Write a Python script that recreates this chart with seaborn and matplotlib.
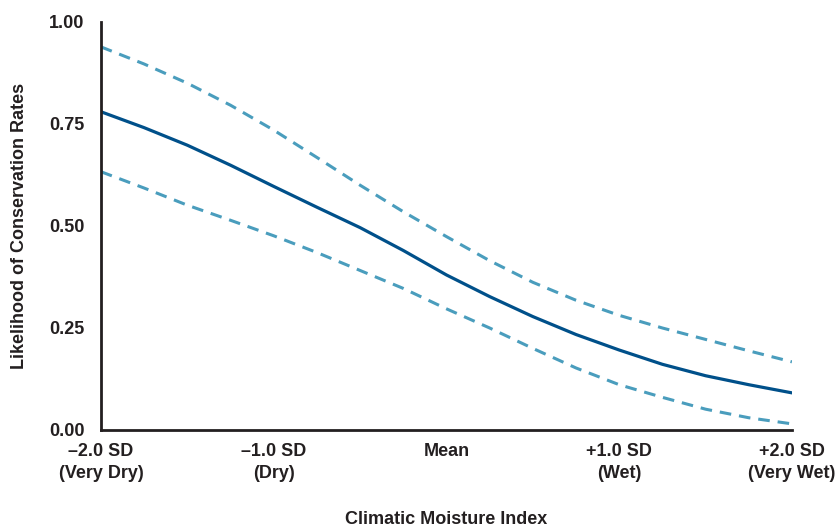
"""
Likelihood of conservation rates across the climatic moisture index
"""
import numpy as np
import pandas as pd
import matplotlib
matplotlib.use("Agg")
import matplotlib.pyplot as plt
import seaborn as sns

# moisture index in SD units
moisture_sd = [-2.0, -1.75, -1.5, -1.25, -1.0, -0.75, -0.5, -0.25, 0.0,
               0.25, 0.5, 0.75, 1.0, 1.25, 1.5, 1.75, 2.0]

# predicted likelihood and the upper / lower bounds
likelihood = [0.780, 0.741, 0.698, 0.649, 0.597, 0.546, 0.496, 0.440, 0.380,
              0.327, 0.278, 0.234, 0.196, 0.161, 0.133, 0.111, 0.091]
upper_bound = [0.939, 0.897, 0.850, 0.796, 0.735, 0.668, 0.600, 0.535, 0.474,
               0.415, 0.362, 0.318, 0.281, 0.250, 0.222, 0.194, 0.167]
lower_bound = [0.633, 0.593, 0.551, 0.514, 0.476, 0.435, 0.391, 0.347, 0.297,
               0.250, 0.200, 0.152, 0.111, 0.080, 0.051, 0.030, 0.015]

major_ticks = [-2.0, -1.0, 0.0, 1.0, 2.0]
minor_ticks = [-1.5, -0.5, 0.5, 1.5]
tick_labels = ["\u20132.0 SD\n(Very Dry)", "\u20131.0 SD\n(Dry)", "Mean",
               "+1.0 SD\n(Wet)", "+2.0 SD\n(Very Wet)"]
y_ticks = [0.0, 0.25, 0.5, 0.75, 1.0]

df = pd.DataFrame({
    "x": moisture_sd,
    "fit": likelihood,
    "upper": upper_bound,
    "lower": lower_bound,
})

sns.set_style("white")
plt.rcParams["font.family"] = ["Liberation Sans", "DejaVu Sans"]
plt.rcParams["font.weight"] = "bold"

dark = "#231f20"
main_col = "#00508a"
band_col = "#4a9dbd"
fs = 13

fig = plt.figure(figsize=(8.4, 5.3), dpi=100)
ax = fig.add_axes([0.1202, 0.1887, 0.8226, 0.7698])

sns.lineplot(data=df, x="x", y="upper", ax=ax, color=band_col, lw=2.2,
             linestyle=(0, (3.8, 2.6)))
sns.lineplot(data=df, x="x", y="lower", ax=ax, color=band_col, lw=2.2,
             linestyle=(0, (3.8, 2.6)))
sns.lineplot(data=df, x="x", y="fit", ax=ax, color=main_col, lw=2.3)

ax.set_xlim(-2.0, 2.0)
ax.set_ylim(0.0, 1.0)
ax.set_xticks(major_ticks)
ax.set_xticks(minor_ticks, minor=True)
ax.set_xticklabels(tick_labels, fontsize=fs, fontweight="bold",
                   linespacing=1.38, color=dark)
ax.set_yticks(y_ticks)
ax.set_yticklabels([f"{v:.2f}" for v in y_ticks], fontsize=fs,
                   fontweight="bold", color=dark)

ax.tick_params(axis="both", which="both", direction="out", length=5,
               width=1.8, color=dark)
ax.tick_params(axis="x", which="major", pad=4.5)
ax.tick_params(axis="y", which="major", pad=7)

for side in ["top", "right"]:
    ax.spines[side].set_visible(False)
for side in ["left", "bottom"]:
    ax.spines[side].set_linewidth(2)
    ax.spines[side].set_color(dark)
    ax.spines[side].set_zorder(5)

ax.set_xlabel("Climatic Moisture Index", fontsize=fs, fontweight="bold",
              color=dark, labelpad=21)
ax.set_ylabel("Likelihood of Conservation Rates", fontsize=fs,
              fontweight="bold", color=dark)
ax.yaxis.set_label_coords(-0.105, 0.5)

fig.savefig("out.png", dpi=100)
plt.close(fig)
